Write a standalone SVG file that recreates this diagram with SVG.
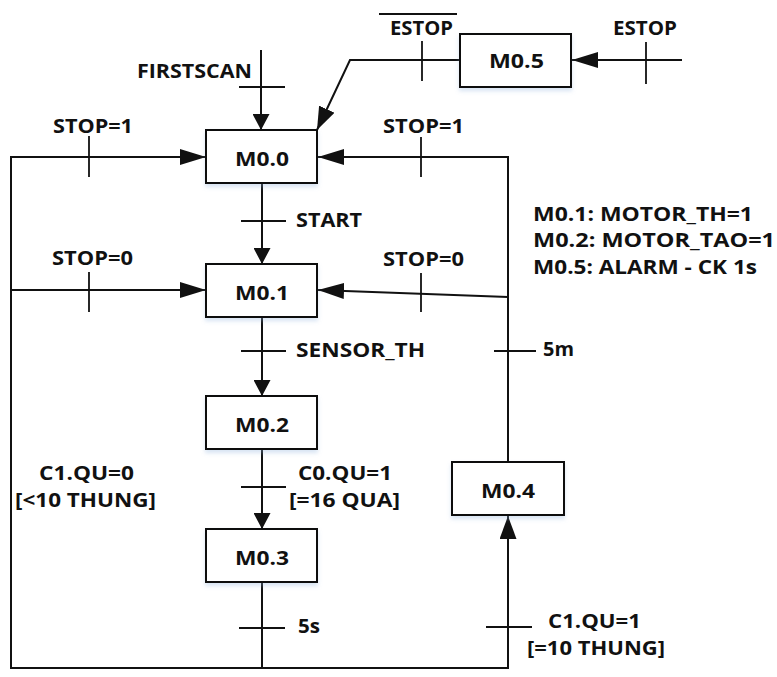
<svg xmlns="http://www.w3.org/2000/svg" width="777" height="677" viewBox="0 0 777 677">
<style>
  .lbl{font-family:"Open Sans","Liberation Sans",sans-serif;font-weight:bold;font-size:19.5px;fill:#111;}
  .box{fill:#fff;stroke:#111;stroke-width:2;filter:url(#sh);}
  .ln{fill:none;stroke:#111;stroke-width:2;}
  .tk{fill:none;stroke:#111;stroke-width:1.8;}
</style>
<defs>
  <filter id="sh" x="-20%" y="-20%" width="140%" height="150%">
    <feDropShadow dx="0" dy="3" stdDeviation="2" flood-color="#8fb0dc" flood-opacity="0.35"/>
  </filter>
  <marker id="aL" markerUnits="userSpaceOnUse" markerWidth="26" markerHeight="16" refX="26" refY="8" orient="auto">
    <path d="M0,0 L26,8 L0,16 z" fill="#111"/>
  </marker>
  <marker id="aS" markerUnits="userSpaceOnUse" markerWidth="16" markerHeight="17" refX="16" refY="8.5" orient="auto">
    <path d="M0,0 L16,8.5 L0,17 z" fill="#111"/>
  </marker>
  <marker id="aM" markerUnits="userSpaceOnUse" markerWidth="23" markerHeight="17" refX="23" refY="8.5" orient="auto">
    <path d="M0,0 L23,8.5 L0,17 z" fill="#111"/>
  </marker>
</defs>

<g id="connectors">
  <line class="ln" x1="261" y1="50" x2="261" y2="130" marker-end="url(#aS)"/>
  <line class="tk" x1="239" y1="87" x2="285" y2="87"/>
  <line class="ln" x1="682" y1="60" x2="572" y2="60" marker-end="url(#aL)"/>
  <line class="tk" x1="646" y1="42" x2="646" y2="84"/>
  <polyline class="ln" points="460,60 350,60 317,130" marker-end="url(#aM)"/>
  <line class="tk" x1="422" y1="41" x2="422" y2="81"/>
  <polyline class="ln" points="262,668 11,668 11,157 206,157" marker-end="url(#aL)"/>
  <line class="ln" x1="11" y1="290" x2="206" y2="290" marker-end="url(#aL)"/>
  <line class="tk" x1="89" y1="136" x2="89" y2="177"/>
  <line class="tk" x1="89" y1="272" x2="89" y2="312"/>
  <polyline class="ln" points="508,462 508,157 318,157" marker-end="url(#aL)"/>
  <line class="ln" x1="508" y1="297" x2="318" y2="290" marker-end="url(#aL)"/>
  <line class="tk" x1="421" y1="137" x2="421" y2="177"/>
  <line class="tk" x1="421" y1="273" x2="421" y2="312"/>
  <line class="tk" x1="494" y1="351" x2="536" y2="351"/>
  <line class="ln" x1="262" y1="183" x2="262" y2="264" marker-end="url(#aS)"/>
  <line class="tk" x1="241" y1="221" x2="286" y2="221"/>
  <line class="ln" x1="262" y1="317" x2="262" y2="396" marker-end="url(#aS)"/>
  <line class="tk" x1="241" y1="351" x2="286" y2="351"/>
  <line class="ln" x1="262" y1="449" x2="262" y2="529" marker-end="url(#aS)"/>
  <line class="tk" x1="241" y1="487" x2="286" y2="487"/>
  <line class="ln" x1="262" y1="582" x2="262" y2="668"/>
  <line class="tk" x1="239" y1="628" x2="285" y2="628"/>
  <polyline class="ln" points="262,668 508,668 508,516" marker-end="url(#aM)"/>
  <line class="tk" x1="486" y1="627" x2="532" y2="627"/>
  <line class="tk" x1="379" y1="14" x2="457" y2="14"/>
</g>

<g id="M0.0"><rect class="box" x="206" y="130" width="111" height="53"/><text class="lbl" x="235" y="166" textLength="54" lengthAdjust="spacingAndGlyphs">M0.0</text></g>
<g id="M0.1"><rect class="box" x="206" y="264" width="111" height="53"/><text class="lbl" x="235" y="300" textLength="54" lengthAdjust="spacingAndGlyphs">M0.1</text></g>
<g id="M0.2"><rect class="box" x="206" y="396" width="111" height="53"/><text class="lbl" x="235" y="432" textLength="54" lengthAdjust="spacingAndGlyphs">M0.2</text></g>
<g id="M0.3"><rect class="box" x="206" y="529" width="111" height="53"/><text class="lbl" x="235" y="565" textLength="54" lengthAdjust="spacingAndGlyphs">M0.3</text></g>
<g id="M0.4"><rect class="box" x="452" y="462" width="112" height="53"/><text class="lbl" x="481" y="498" textLength="54" lengthAdjust="spacingAndGlyphs">M0.4</text></g>
<g id="M0.5"><rect class="box" x="460" y="34" width="111" height="53"/><text class="lbl" x="489" y="68" textLength="55" lengthAdjust="spacingAndGlyphs">M0.5</text></g>

<g id="labels">
  <text class="lbl" x="137" y="78" textLength="115" lengthAdjust="spacingAndGlyphs">FIRSTSCAN</text>
  <text class="lbl" x="390" y="35" textLength="63" lengthAdjust="spacingAndGlyphs">ESTOP</text>
  <text class="lbl" x="613" y="35" textLength="64" lengthAdjust="spacingAndGlyphs">ESTOP</text>
  <text class="lbl" x="53" y="133" textLength="80" lengthAdjust="spacingAndGlyphs">STOP=1</text>
  <text class="lbl" x="383" y="133" textLength="81" lengthAdjust="spacingAndGlyphs">STOP=1</text>
  <text class="lbl" x="296" y="227" textLength="66" lengthAdjust="spacingAndGlyphs">START</text>
  <text class="lbl" x="52" y="265" textLength="81" lengthAdjust="spacingAndGlyphs">STOP=0</text>
  <text class="lbl" x="383" y="266" textLength="81" lengthAdjust="spacingAndGlyphs">STOP=0</text>
  <text class="lbl" x="533" y="221" textLength="220" lengthAdjust="spacingAndGlyphs">M0.1: MOTOR_TH=1</text>
  <text class="lbl" x="533" y="247" textLength="242" lengthAdjust="spacingAndGlyphs">M0.2: MOTOR_TAO=1</text>
  <text class="lbl" x="533" y="274" textLength="224" lengthAdjust="spacingAndGlyphs">M0.5: ALARM - CK 1s</text>
  <text class="lbl" x="296" y="357" textLength="129" lengthAdjust="spacingAndGlyphs">SENSOR_TH</text>
  <text class="lbl" x="543" y="356" textLength="31" lengthAdjust="spacingAndGlyphs">5m</text>
  <text class="lbl" x="39" y="480" textLength="95" lengthAdjust="spacingAndGlyphs">C1.QU=0</text>
  <text class="lbl" x="15" y="507" textLength="141" lengthAdjust="spacingAndGlyphs">[&lt;10 THUNG]</text>
  <text class="lbl" x="298" y="480" textLength="94" lengthAdjust="spacingAndGlyphs">C0.QU=1</text>
  <text class="lbl" x="289" y="507" textLength="111" lengthAdjust="spacingAndGlyphs">[=16 QUA]</text>
  <text class="lbl" x="298" y="633" textLength="22" lengthAdjust="spacingAndGlyphs">5s</text>
  <text class="lbl" x="548" y="628" textLength="93" lengthAdjust="spacingAndGlyphs">C1.QU=1</text>
  <text class="lbl" x="527" y="655" textLength="138" lengthAdjust="spacingAndGlyphs">[=10 THUNG]</text>
</g>
</svg>
